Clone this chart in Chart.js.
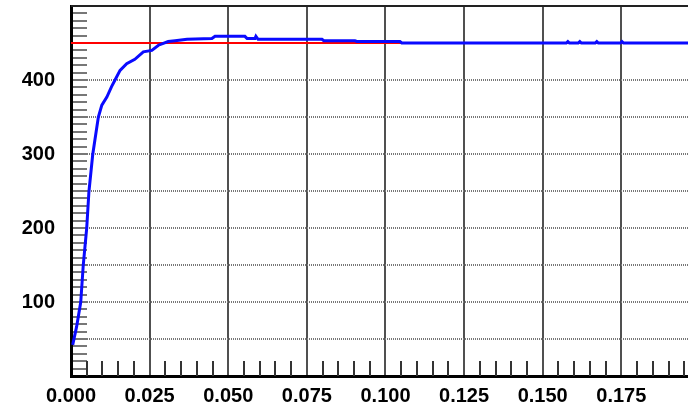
<!DOCTYPE html>
<html>
<head>
<meta charset="utf-8">
<script src="https://cdn.jsdelivr.net/npm/chart.js@4/dist/chart.umd.min.js"></script>
<style>
  html, body { margin: 0; padding: 0; background: #fff; }
  #wrap { width: 688px; height: 410px; }
</style>
</head>
<body>
<div id="wrap"><canvas id="stepChart" width="688" height="410"></canvas></div>
<script>
/* data
************************************************** */
var timeS = [0.00054, 0.0018, 0.0031, 0.0039, 0.0050, 0.0057, 0.0069, 0.0076, 0.0087, 0.0098,
             0.0114, 0.0129, 0.0140, 0.0156, 0.0177, 0.0203, 0.0230, 0.0257, 0.0278, 0.0309,
             0.0331, 0.0369, 0.0448, 0.0458, 0.0553, 0.0560, 0.0585, 0.0588, 0.0595, 0.0798,
             0.0804, 0.0903, 0.0909, 0.1046, 0.1052, 0.1575, 0.1580, 0.1585, 0.1613, 0.1618,
             0.1623, 0.1667, 0.1672, 0.1677, 0.1747, 0.1752, 0.1757, 0.1962];
var measured = [42, 67, 100, 150, 200, 249, 299, 319, 350, 366,
                377, 391, 400, 413, 422, 428, 438, 440, 447, 452,
                453, 455, 456, 459, 459, 456, 456, 459, 455, 455,
                453, 453, 452, 452, 450, 450, 452, 450, 450, 452,
                450, 450, 452, 450, 450, 452, 450, 450];
var refTime = [0, 0.1962];
var refLevel = [450, 450];

var xTickLabels = ['0.000', '0.025', '0.050', '0.075', '0.100', '0.125', '0.150', '0.175'];
var yTickLabels = ['100', '200', '300', '400'];
var xMin = 0, xMax = 0.1962, yMin = 0, yMax = 500;

function pairs(xs, ys){
	return xs.map(function(x, i){ return {x: x, y: ys[i]}; });
}

function noPadding(scale){
	scale.paddingTop = 0;
	scale.paddingBottom = 0;
	scale.paddingLeft = 0;
	scale.paddingRight = 0;
}

// minor tick marks inside the frame + top frame line
var frameTicks = {
	id: 'frameTicks',
	beforeDatasetsDraw: function(chart){
		var ctx = chart.ctx, a = chart.chartArea;
		var xs = chart.scales.x, ys = chart.scales.y;
		ctx.save();
		// left minor ticks every 10
		ctx.strokeStyle = '#777';
		ctx.lineWidth = 2;
		for (var v = 10; v < yMax; v += 10) {
			var py = Math.round(ys.getPixelForValue(v));
			ctx.beginPath();
			ctx.moveTo(a.left + 2, py);
			ctx.lineTo(a.left + 16, py);
			ctx.stroke();
		}
		// bottom minor ticks every 0.005
		ctx.strokeStyle = '#333';
		ctx.lineWidth = 2;
		for (var k = 1; k * 0.005 <= xMax; k++) {
			if (k % 5 === 0) continue;
			var px = Math.round(xs.getPixelForValue(k * 0.005));
			ctx.beginPath();
			ctx.moveTo(px, a.bottom - 15);
			ctx.lineTo(px, a.bottom);
			ctx.stroke();
		}
		// top frame line
		ctx.strokeStyle = '#222';
		ctx.lineWidth = 2;
		ctx.beginPath();
		ctx.moveTo(a.left, a.top);
		ctx.lineTo(a.right, a.top);
		ctx.stroke();
		ctx.restore();
	}
};

var ctx = document.getElementById('stepChart').getContext('2d');
var stepChart = new Chart(ctx, {
	type: 'scatter',
	data: {
		datasets: [
			{
				label: 'measured',
				data: pairs(timeS, measured),
				showLine: true,
				borderColor: '#0a0aff',
				borderWidth: 3,
				pointRadius: 0,
				tension: 0,
				order: 0
			},
			{
				label: 'reference',
				data: pairs(refTime, refLevel),
				showLine: true,
				borderColor: '#ff0000',
				borderWidth: 2,
				pointRadius: 0,
				order: 1
			}
		]
	},
	options: {
		responsive: false,
		animation: false,
		devicePixelRatio: 1,
		layout: { padding: { top: 6, left: 0, right: 0, bottom: 0 } },
		plugins: {
			legend: { display: false },
			tooltip: { enabled: false }
		},
		scales: {
			x: {
				type: 'linear',
				min: xMin,
				max: xMax,
				afterBuildTicks: function(scale){
					scale.ticks = xTickLabels.map(function(l){ return {value: parseFloat(l)}; });
				},
				afterFit: function(scale){ scale.height = 34; noPadding(scale); },
				ticks: {
					autoSkip: false,
					maxRotation: 0,
					padding: 8,
					color: '#000',
					font: { family: 'Liberation Sans, Arial, sans-serif', size: 20, weight: 'bold' },
					callback: function(v){ return v.toFixed(3); }
				},
				grid: { color: '#505050', lineWidth: 2, drawTicks: false },
				border: { color: '#000', width: 3 }
			},
			y: {
				type: 'linear',
				min: yMin,
				max: yMax,
				afterBuildTicks: function(scale){
					var t = [];
					for (var v = 50; v < yMax; v += 50) t.push({value: v});
					scale.ticks = t;
				},
				afterFit: function(scale){ scale.width = 71; noPadding(scale); },
				ticks: {
					autoSkip: false,
					padding: 16,
					color: '#000',
					font: { family: 'Liberation Sans, Arial, sans-serif', size: 20, weight: 'bold' },
					callback: function(v){
						return yTickLabels.indexOf(String(v)) >= 0 ? String(v) : '';
					}
				},
				grid: { color: '#777', lineWidth: 2, drawTicks: false },
				border: { color: '#000', width: 3, dash: [1, 1] }
			}
		}
	},
	plugins: [frameTicks]
});
</script>
</body>
</html>
